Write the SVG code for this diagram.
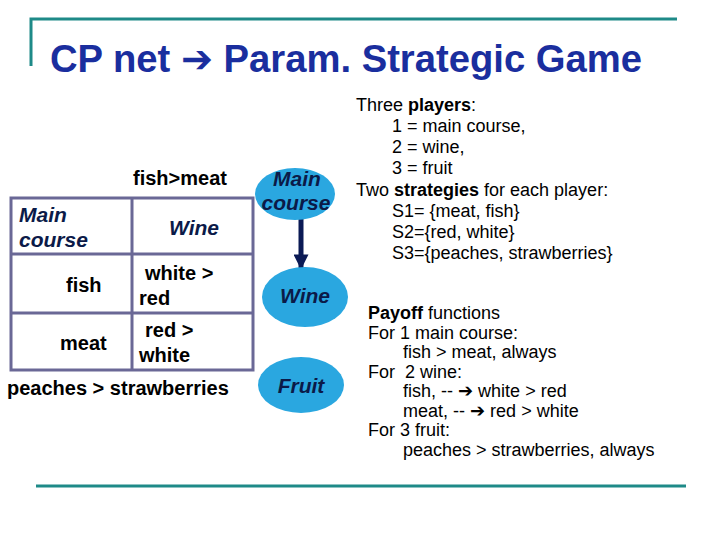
<svg xmlns="http://www.w3.org/2000/svg" width="720" height="540" viewBox="0 0 720 540">
<defs>
<style>
.t{font-family:"Liberation Sans",Arial,sans-serif;fill:#000}
.r{font-size:18px}
.b{font-weight:bold}
.tb{font-size:20px;font-weight:bold}
.node{fill:#2aa7e0}
.nl{font-family:"Liberation Sans",Arial,sans-serif;font-size:21px;font-weight:bold;font-style:italic;fill:#0b1a48}
.grid{stroke:#6a6896;stroke-width:3;fill:none}
.rule{stroke:#1e8a88;fill:none}
</style>
<marker id="ah" viewBox="0 0 10 10" refX="9" refY="5" markerWidth="3.2" markerHeight="3" orient="auto" markerUnits="strokeWidth">
<path d="M0,0 L10,5 L0,10 z" fill="#0b1a55"/>
</marker>
</defs>
<rect width="720" height="540" fill="#fff"/>
<g id="frame">
<path class="rule" stroke-width="3" d="M31,66 V19 H677"/>
<path class="rule" stroke-width="3" d="M36,486 H686"/>
</g>
<text id="title" x="50" y="72" font-family="'Liberation Sans',Arial,sans-serif" font-size="38" font-weight="bold" fill="#1a2e9e" textLength="592" lengthAdjust="spacingAndGlyphs">CP net <tspan font-family="'DejaVu Sans',sans-serif">➔</tspan> Param. Strategic Game</text>
<g id="cpt">
<text class="t tb" x="133" y="185">fish&gt;meat</text>
<rect class="grid" x="11" y="198" width="242" height="172"/>
<path class="grid" d="M11,254 H253 M11,313 H253 M132,198 V370"/>
<text class="nl" x="19" y="222">Main</text>
<text class="nl" x="19" y="247">course</text>
<text class="nl" x="194" y="235" text-anchor="middle">Wine</text>
<text class="t tb" x="66" y="292">fish</text>
<text class="t tb" x="145" y="280">white &gt;</text>
<text class="t tb" x="139" y="305">red</text>
<text class="t tb" x="60" y="350">meat</text>
<text class="t tb" x="145" y="337">red &gt;</text>
<text class="t tb" x="139" y="362">white</text>
<text class="t tb" x="7" y="395">peaches &gt; strawberries</text>
</g>
<g id="connectors">
<line x1="301" y1="219" x2="301" y2="268" stroke="#0b1a55" stroke-width="5" marker-end="url(#ah)"/>
</g>
<g id="node-main">
<ellipse class="node" cx="295" cy="194" rx="40" ry="26"/>
<text class="nl" x="297" y="186" text-anchor="middle">Main</text>
<text class="nl" x="296" y="210" text-anchor="middle">course</text>
</g>
<g id="node-wine">
<ellipse class="node" cx="305" cy="297" rx="43" ry="30"/>
<text class="nl" x="305" y="303" text-anchor="middle">Wine</text>
</g>
<g id="node-fruit">
<ellipse class="node" cx="301" cy="385" rx="43" ry="28"/>
<text class="nl" x="301" y="393" text-anchor="middle">Fruit</text>
</g>
<g id="players" class="t r">
<text x="356" y="111">Three <tspan class="b">players</tspan>:</text>
<text x="392" y="132">1 = main course,</text>
<text x="392" y="153">2 = wine,</text>
<text x="392" y="174">3 = fruit</text>
<text x="356" y="196">Two <tspan class="b">strategies</tspan> for each player:</text>
<text x="392" y="217">S1= {meat, fish}</text>
<text x="392" y="238">S2={red, white}</text>
<text x="392" y="259">S3={peaches, strawberries}</text>
</g>
<g id="payoff" class="t r">
<text x="368" y="319"><tspan class="b">Payoff</tspan> functions</text>
<text x="368" y="339">For 1 main course:</text>
<text x="403" y="358">fish &gt; meat, always</text>
<text x="368" y="378" xml:space="preserve">For  2 wine:</text>
<text x="403" y="397">fish, -- <tspan font-family="'DejaVu Sans',sans-serif" font-weight="bold">➔</tspan> white &gt; red</text>
<text x="403" y="417">meat, -- <tspan font-family="'DejaVu Sans',sans-serif" font-weight="bold">➔</tspan> red &gt; white</text>
<text x="368" y="436">For 3 fruit:</text>
<text x="403" y="456">peaches &gt; strawberries, always</text>
</g>
</svg>
